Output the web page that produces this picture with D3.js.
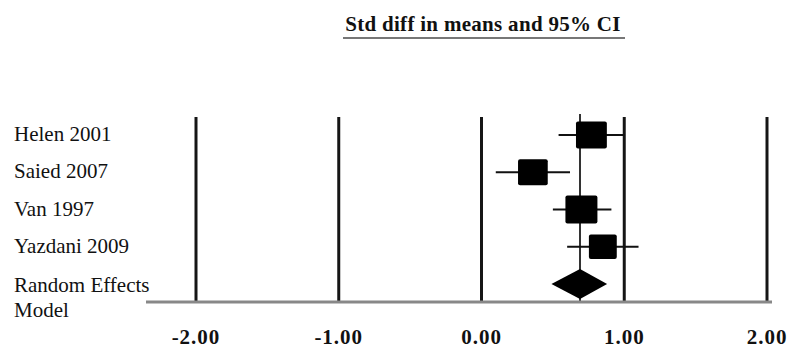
<!DOCTYPE html>
<html><head><meta charset="utf-8">
<script src="https://cdn.jsdelivr.net/npm/d3@7"></script>
<style>
body{margin:0;background:#fff;}
svg{display:block;font-family:"Liberation Serif","Times New Roman",serif;}
</style></head>
<body><svg id="c" width="792" height="349"></svg>
<script>
const studies = ["Helen 2001","Saied 2007","Van 1997","Yazdani 2009"];
const effect  = [0.77, 0.36, 0.70, 0.85];
const lower   = [0.54, 0.10, 0.50, 0.60];
const upper   = [1.00, 0.62, 0.91, 1.10];
const weight  = [27, 25, 29, 22];
const pooledLabel = ["Random Effects","Model"];
const pooledEffect = 0.69, pooledLower = 0.49, pooledUpper = 0.88;
const ticks = [-2, -1, 0, 1, 2];
const tickLabels = ["-2.00","-1.00","0.00","1.00","2.00"];
const title = "Std diff in means and 95% CI";

(function(){
const svg = d3.select("#c");
const x = d3.scaleLinear().domain([-2,2]).range([196,767]);
const rows = studies.concat(["pooled"]);
const y = d3.scalePoint().domain(rows).range([135,284]);
const side = d3.scaleSqrt().domain([0, d3.max(weight)]).range([0, 32]);
const yTop = 117, yBase = 302;

svg.append("text").attr("x",483).attr("y",31).attr("text-anchor","middle")
  .attr("font-weight","bold").attr("font-size",21).attr("fill","#111")
  .attr("letter-spacing",0.3).text(title);
svg.append("line").attr("x1",343).attr("x2",625).attr("y1",38).attr("y2",38)
  .attr("stroke","#777").attr("stroke-width",2);

svg.selectAll("line.v").data(ticks).join("line").attr("class","v")
  .attr("x1",d=>x(d)).attr("x2",d=>x(d)).attr("y1",yTop).attr("y2",yBase)
  .attr("stroke","#151515").attr("stroke-width",3);

svg.append("line").attr("x1",x(pooledEffect)).attr("x2",x(pooledEffect))
  .attr("y1",114).attr("y2",yBase).attr("stroke","#333").attr("stroke-width",2);

svg.append("line").attr("x1",146).attr("x2",772).attr("y1",yBase).attr("y2",yBase)
  .attr("stroke","#888").attr("stroke-width",3);

svg.selectAll("text.tk").data(ticks).join("text").attr("class","tk")
  .attr("x",d=>x(d)).attr("y",344).attr("text-anchor","middle")
  .attr("font-weight","bold").attr("font-size",21).attr("letter-spacing",1)
  .attr("fill","#111").text((d,i)=>tickLabels[i]);

svg.selectAll("text.lab").data(studies).join("text").attr("class","lab")
  .attr("x",14).attr("y",d=>y(d)+6).attr("font-size",21).attr("fill","#111").text(d=>d);
svg.append("text").attr("x",14).attr("y",y("pooled")+8).attr("font-size",21)
  .attr("fill","#111").text(pooledLabel[0]);
svg.append("text").attr("x",14).attr("y",y("pooled")+33).attr("font-size",21)
  .attr("fill","#111").text(pooledLabel[1]);

const data = studies.map((s,i)=>({s, e:effect[i], lo:lower[i], hi:upper[i], w:weight[i]}));
svg.selectAll("line.ci").data(data).join("line").attr("class","ci")
  .attr("x1",d=>x(d.lo)).attr("x2",d=>x(d.hi)).attr("y1",d=>y(d.s)).attr("y2",d=>y(d.s))
  .attr("stroke","#111").attr("stroke-width",2);
svg.selectAll("rect.box").data(data).join("rect").attr("class","box")
  .attr("x",d=>x(d.e)-side(d.w)/2).attr("y",d=>y(d.s)-side(d.w)*0.44)
  .attr("width",d=>side(d.w)).attr("height",d=>side(d.w)*0.88)
  .attr("rx",2).attr("fill","#000");

const py = y("pooled");
svg.append("path").attr("d",
  `M${x(pooledLower)},${py} L${x(pooledEffect)},${py-15} L${x(pooledUpper)},${py} L${x(pooledEffect)},${py+15} Z`)
  .attr("fill","#000");
})();
</script></body></html>
